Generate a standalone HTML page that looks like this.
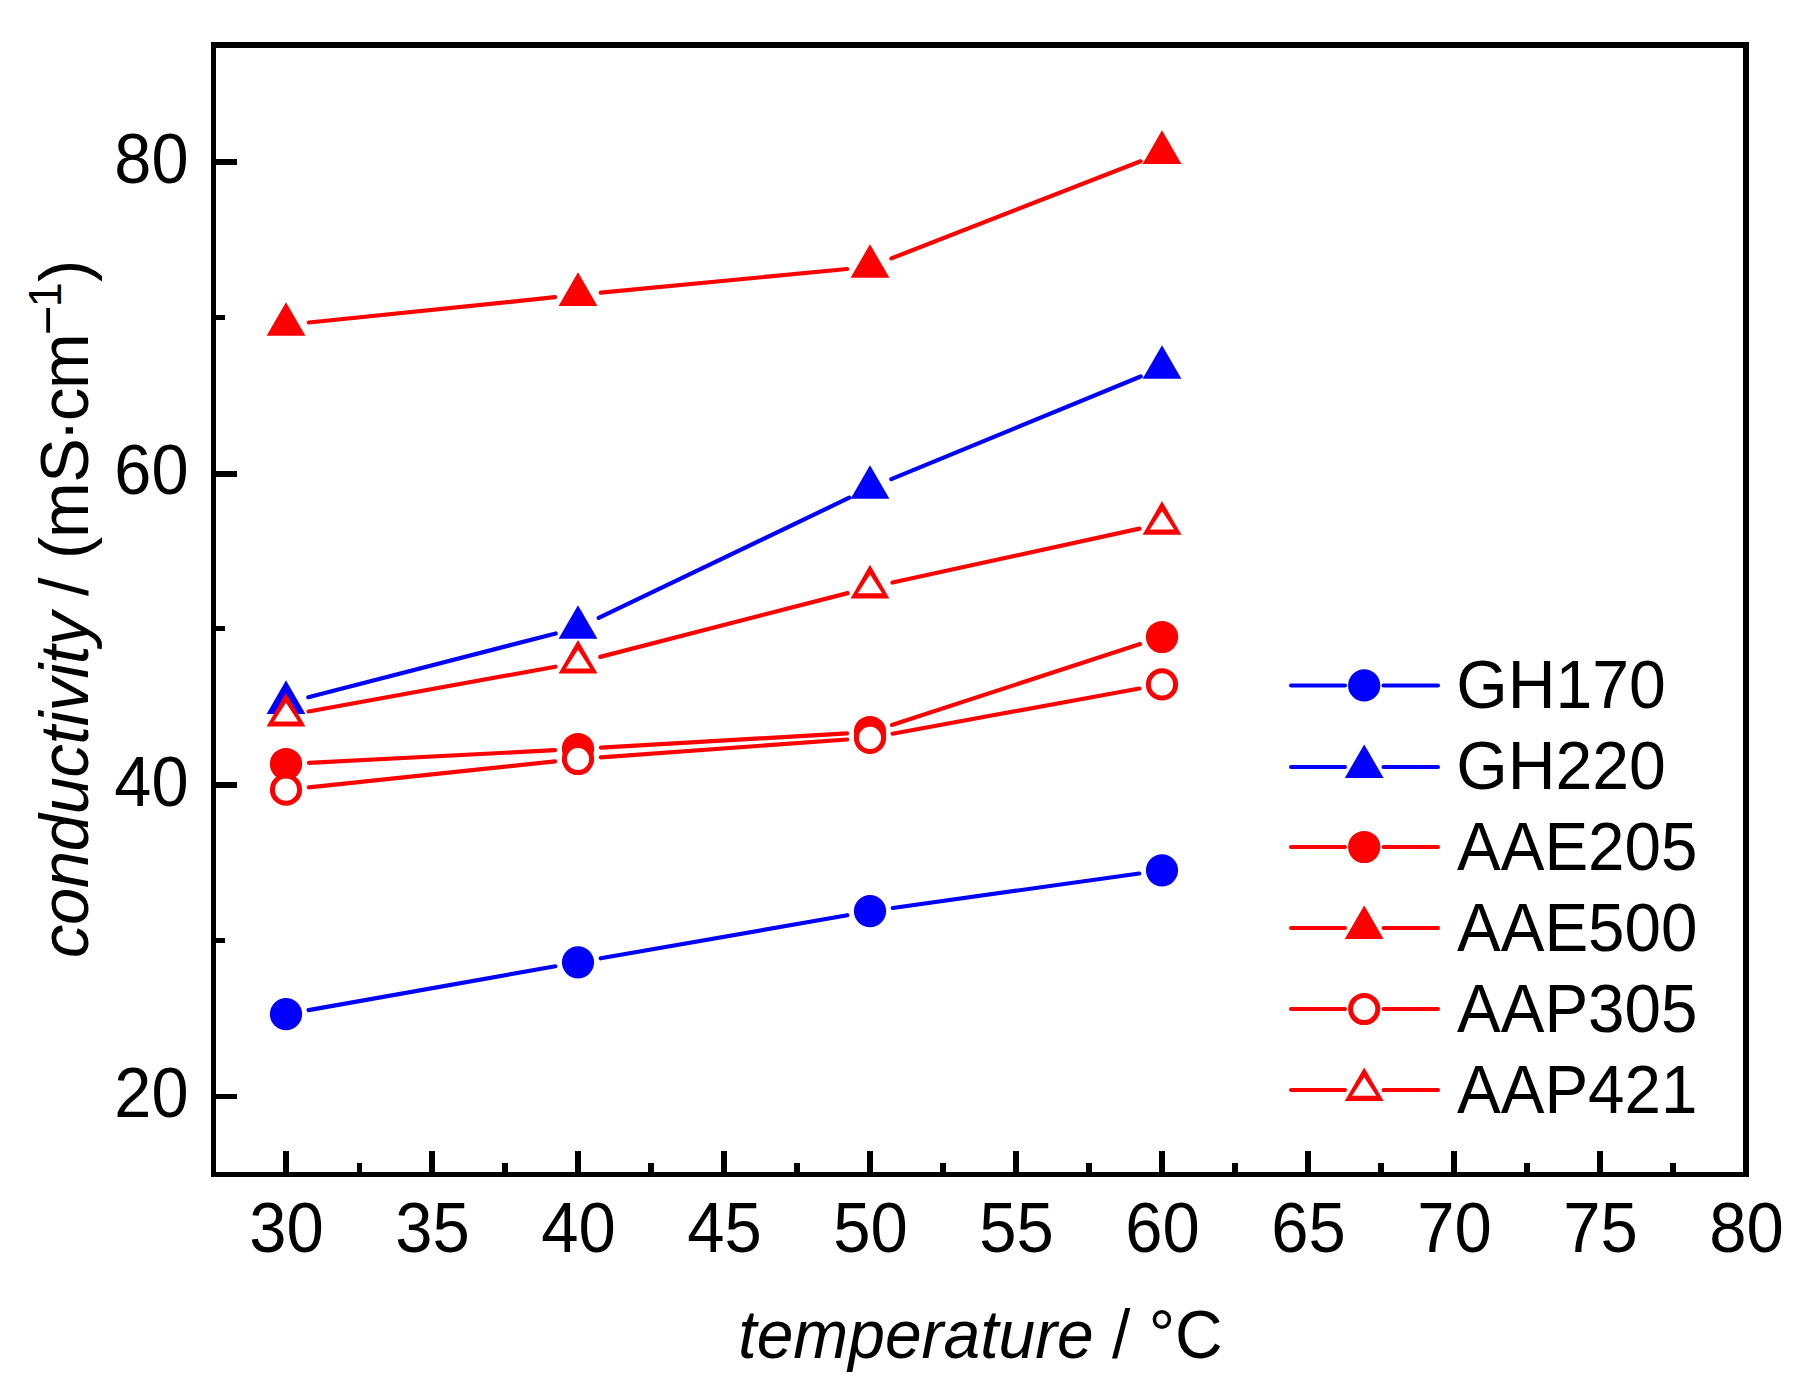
<!DOCTYPE html>
<html><head><meta charset="utf-8">
<style>html,body{margin:0;padding:0;background:#fff}svg{display:block}</style></head>
<body>
<svg width="1796" height="1385" viewBox="0 0 1796 1385" font-family="'Liberation Sans', sans-serif" font-size="66.67px" fill="#000">
<rect x="0" y="0" width="1796" height="1385" fill="#fff"/>
<g fill="#000" shape-rendering="crispEdges">
<rect x="211" y="42" width="1538" height="6"/>
<rect x="211" y="1172" width="1538" height="5"/>
<rect x="211" y="42" width="5" height="1135"/>
<rect x="1743" y="42" width="6" height="1135"/>
<rect x="283" y="1151" width="6" height="21"/>
<rect x="357" y="1163" width="5" height="9"/>
<rect x="429" y="1151" width="6" height="21"/>
<rect x="502" y="1163" width="6" height="9"/>
<rect x="575" y="1151" width="6" height="21"/>
<rect x="648" y="1163" width="6" height="9"/>
<rect x="721" y="1151" width="6" height="21"/>
<rect x="794" y="1163" width="6" height="9"/>
<rect x="867" y="1151" width="6" height="21"/>
<rect x="940" y="1163" width="6" height="9"/>
<rect x="1013" y="1151" width="6" height="21"/>
<rect x="1086" y="1163" width="6" height="9"/>
<rect x="1159" y="1151" width="6" height="21"/>
<rect x="1232" y="1163" width="6" height="9"/>
<rect x="1305" y="1151" width="6" height="21"/>
<rect x="1378" y="1163" width="6" height="9"/>
<rect x="1451" y="1151" width="6" height="21"/>
<rect x="1524" y="1163" width="6" height="9"/>
<rect x="1597" y="1151" width="6" height="21"/>
<rect x="1670" y="1163" width="6" height="9"/>
<rect x="216" y="1094" width="21" height="5"/>
<rect x="216" y="938" width="9" height="5"/>
<rect x="216" y="782" width="21" height="6"/>
<rect x="216" y="626" width="9" height="5"/>
<rect x="216" y="471" width="21" height="6"/>
<rect x="216" y="315" width="9" height="5"/>
<rect x="216" y="159" width="21" height="6"/>
</g>
<text transform="translate(286.6,1251.8) scale(1.005,1.06)" text-anchor="middle">30</text>
<text transform="translate(432.6,1251.8) scale(1.005,1.06)" text-anchor="middle">35</text>
<text transform="translate(578.6,1251.8) scale(1.005,1.06)" text-anchor="middle">40</text>
<text transform="translate(724.6,1251.8) scale(1.005,1.06)" text-anchor="middle">45</text>
<text transform="translate(870.6,1251.8) scale(1.005,1.06)" text-anchor="middle">50</text>
<text transform="translate(1016.6,1251.8) scale(1.005,1.06)" text-anchor="middle">55</text>
<text transform="translate(1162.6,1251.8) scale(1.005,1.06)" text-anchor="middle">60</text>
<text transform="translate(1308.6,1251.8) scale(1.005,1.06)" text-anchor="middle">65</text>
<text transform="translate(1454.6,1251.8) scale(1.005,1.06)" text-anchor="middle">70</text>
<text transform="translate(1600.6,1251.8) scale(1.005,1.06)" text-anchor="middle">75</text>
<text transform="translate(1746.6,1251.8) scale(1.005,1.06)" text-anchor="middle">80</text>
<text transform="translate(188.5,1117.0) scale(1.0,1.06)" text-anchor="end">20</text>
<text transform="translate(188.5,805.5) scale(1.0,1.06)" text-anchor="end">40</text>
<text transform="translate(188.5,494.0) scale(1.0,1.06)" text-anchor="end">60</text>
<text transform="translate(188.5,182.5) scale(1.0,1.06)" text-anchor="end">80</text>
<text transform="translate(980.5,1357.6) scale(0.989,1.04)" text-anchor="middle"><tspan font-style="italic">temperature</tspan> / °C</text>
<text transform="translate(88,956) rotate(-90) scale(1,1.04)"><tspan x="-2.0" font-style="italic" letter-spacing="-0.23">conductivity</tspan> <tspan x="359.9">/</tspan> <tspan x="396.9 418.1 473.2 514.5 534.9 567.0">(mS·cm</tspan><tspan x="620.9" y="-20.7" font-size="51px">−</tspan><tspan x="648.8" y="-26.0" font-size="45px">1</tspan><tspan x="674.0" y="0">)</tspan></text>
<line x1="308.6" y1="1010.1" x2="555.4" y2="966.3" stroke="#0000ff" stroke-width="4.2" stroke-linecap="round"/>
<line x1="600.7" y1="958.3" x2="847.3" y2="915.2" stroke="#0000ff" stroke-width="4.2" stroke-linecap="round"/>
<line x1="892.8" y1="908.0" x2="1139.2" y2="873.5" stroke="#0000ff" stroke-width="4.2" stroke-linecap="round"/>
<circle cx="286.0" cy="1014.1" r="16.1" fill="#0000ff"/>
<circle cx="578.0" cy="962.3" r="16.1" fill="#0000ff"/>
<circle cx="870.0" cy="911.2" r="16.1" fill="#0000ff"/>
<circle cx="1162.0" cy="870.3" r="16.1" fill="#0000ff"/>
<line x1="308.3" y1="697.2" x2="555.7" y2="633.5" stroke="#0000ff" stroke-width="4.2" stroke-linecap="round"/>
<line x1="598.7" y1="617.9" x2="849.3" y2="497.7" stroke="#0000ff" stroke-width="4.2" stroke-linecap="round"/>
<line x1="891.3" y1="479.1" x2="1140.7" y2="376.5" stroke="#0000ff" stroke-width="4.2" stroke-linecap="round"/>
<polygon points="286.0,680.3 305.4,713.9 266.6,713.9" fill="#0000ff"/>
<polygon points="578.0,605.2 597.4,638.8 558.6,638.8" fill="#0000ff"/>
<polygon points="870.0,465.2 889.4,498.8 850.6,498.8" fill="#0000ff"/>
<polygon points="1162.0,345.2 1181.4,378.8 1142.6,378.8" fill="#0000ff"/>
<line x1="309.0" y1="762.8" x2="555.0" y2="750.2" stroke="#ff0000" stroke-width="4.2" stroke-linecap="round"/>
<line x1="601.0" y1="747.7" x2="847.0" y2="733.3" stroke="#ff0000" stroke-width="4.2" stroke-linecap="round"/>
<line x1="891.9" y1="724.9" x2="1140.1" y2="644.1" stroke="#ff0000" stroke-width="4.2" stroke-linecap="round"/>
<circle cx="286.0" cy="764.0" r="16.1" fill="#ff0000"/>
<circle cx="578.0" cy="749.0" r="16.1" fill="#ff0000"/>
<circle cx="870.0" cy="732.0" r="16.1" fill="#ff0000"/>
<circle cx="1162.0" cy="637.0" r="16.1" fill="#ff0000"/>
<line x1="308.9" y1="322.5" x2="555.1" y2="297.2" stroke="#ff0000" stroke-width="4.2" stroke-linecap="round"/>
<line x1="600.9" y1="292.7" x2="847.1" y2="269.0" stroke="#ff0000" stroke-width="4.2" stroke-linecap="round"/>
<line x1="891.4" y1="258.4" x2="1140.6" y2="161.3" stroke="#ff0000" stroke-width="4.2" stroke-linecap="round"/>
<polygon points="286.0,302.2 305.4,335.8 266.6,335.8" fill="#ff0000"/>
<polygon points="578.0,272.3 597.4,305.9 558.6,305.9" fill="#ff0000"/>
<polygon points="870.0,244.2 889.4,277.8 850.6,277.8" fill="#ff0000"/>
<polygon points="1162.0,130.3 1181.4,163.9 1142.6,163.9" fill="#ff0000"/>
<line x1="308.9" y1="787.3" x2="555.1" y2="761.4" stroke="#ff0000" stroke-width="4.2" stroke-linecap="round"/>
<line x1="600.9" y1="757.3" x2="847.1" y2="739.5" stroke="#ff0000" stroke-width="4.2" stroke-linecap="round"/>
<line x1="892.6" y1="733.7" x2="1139.4" y2="688.5" stroke="#ff0000" stroke-width="4.2" stroke-linecap="round"/>
<circle cx="286.0" cy="789.7" r="13.6" fill="#fff" stroke="#ff0000" stroke-width="5"/>
<circle cx="578.0" cy="759.0" r="13.6" fill="#fff" stroke="#ff0000" stroke-width="5"/>
<circle cx="870.0" cy="737.8" r="13.6" fill="#fff" stroke="#ff0000" stroke-width="5"/>
<circle cx="1162.0" cy="684.4" r="13.6" fill="#fff" stroke="#ff0000" stroke-width="5"/>
<line x1="308.6" y1="711.5" x2="555.4" y2="666.7" stroke="#ff0000" stroke-width="4.2" stroke-linecap="round"/>
<line x1="600.3" y1="656.9" x2="847.7" y2="593.1" stroke="#ff0000" stroke-width="4.2" stroke-linecap="round"/>
<line x1="892.5" y1="582.5" x2="1139.5" y2="528.6" stroke="#ff0000" stroke-width="4.2" stroke-linecap="round"/>
<polygon points="286.0,693.0 305.4,726.6 266.6,726.6" fill="#ff0000"/><polygon points="286.0,702.8 298.1,721.4 273.9,721.4" fill="#fff"/>
<polygon points="578.0,640.0 597.4,673.6 558.6,673.6" fill="#ff0000"/><polygon points="578.0,649.8 590.1,668.4 565.9,668.4" fill="#fff"/>
<polygon points="870.0,564.8 889.4,598.4 850.6,598.4" fill="#ff0000"/><polygon points="870.0,574.6 882.1,593.2 857.9,593.2" fill="#fff"/>
<polygon points="1162.0,501.1 1181.4,534.7 1142.6,534.7" fill="#ff0000"/><polygon points="1162.0,510.9 1174.1,529.5 1149.9,529.5" fill="#fff"/>
<line x1="1291" y1="685.4" x2="1345" y2="685.4" stroke="#0000ff" stroke-width="4" stroke-linecap="round"/>
<line x1="1383.5" y1="685.4" x2="1438" y2="685.4" stroke="#0000ff" stroke-width="4" stroke-linecap="round"/>
<circle cx="1364.2" cy="685.4" r="16.1" fill="#0000ff"/>
<text transform="translate(1456.3,708.2) scale(0.992,1.04)" text-anchor="start">GH170</text>
<line x1="1291" y1="767.0" x2="1345" y2="767.0" stroke="#0000ff" stroke-width="4" stroke-linecap="round"/>
<line x1="1383.5" y1="767.0" x2="1438" y2="767.0" stroke="#0000ff" stroke-width="4" stroke-linecap="round"/>
<polygon points="1364.2,744.4 1383.6,778.0 1344.8,778.0" fill="#0000ff"/>
<text transform="translate(1456.3,789.0) scale(0.992,1.04)" text-anchor="start">GH220</text>
<line x1="1291" y1="847.0" x2="1345" y2="847.0" stroke="#ff0000" stroke-width="4" stroke-linecap="round"/>
<line x1="1383.5" y1="847.0" x2="1438" y2="847.0" stroke="#ff0000" stroke-width="4" stroke-linecap="round"/>
<circle cx="1364.2" cy="847.0" r="16.1" fill="#ff0000"/>
<text transform="translate(1457.0,869.8) scale(0.983,1.04)" text-anchor="start">AAE205</text>
<line x1="1291" y1="928.0" x2="1345" y2="928.0" stroke="#ff0000" stroke-width="4" stroke-linecap="round"/>
<line x1="1383.5" y1="928.0" x2="1438" y2="928.0" stroke="#ff0000" stroke-width="4" stroke-linecap="round"/>
<polygon points="1364.2,905.4 1383.6,939.0 1344.8,939.0" fill="#ff0000"/>
<text transform="translate(1457.0,950.5) scale(0.983,1.04)" text-anchor="start">AAE500</text>
<line x1="1291" y1="1009.0" x2="1345" y2="1009.0" stroke="#ff0000" stroke-width="4" stroke-linecap="round"/>
<line x1="1383.5" y1="1009.0" x2="1438" y2="1009.0" stroke="#ff0000" stroke-width="4" stroke-linecap="round"/>
<circle cx="1364.2" cy="1009.0" r="13.6" fill="#fff" stroke="#ff0000" stroke-width="5"/>
<text transform="translate(1457.0,1031.7) scale(0.983,1.04)" text-anchor="start">AAP305</text>
<line x1="1291" y1="1090.0" x2="1345" y2="1090.0" stroke="#ff0000" stroke-width="4" stroke-linecap="round"/>
<line x1="1383.5" y1="1090.0" x2="1438" y2="1090.0" stroke="#ff0000" stroke-width="4" stroke-linecap="round"/>
<polygon points="1364.2,1067.4 1383.6,1101.0 1344.8,1101.0" fill="#ff0000"/><polygon points="1364.2,1077.2 1376.3,1095.8 1352.1,1095.8" fill="#fff"/>
<text transform="translate(1457.0,1112.6) scale(0.983,1.04)" text-anchor="start">AAP421</text>
</svg>
</body></html>
